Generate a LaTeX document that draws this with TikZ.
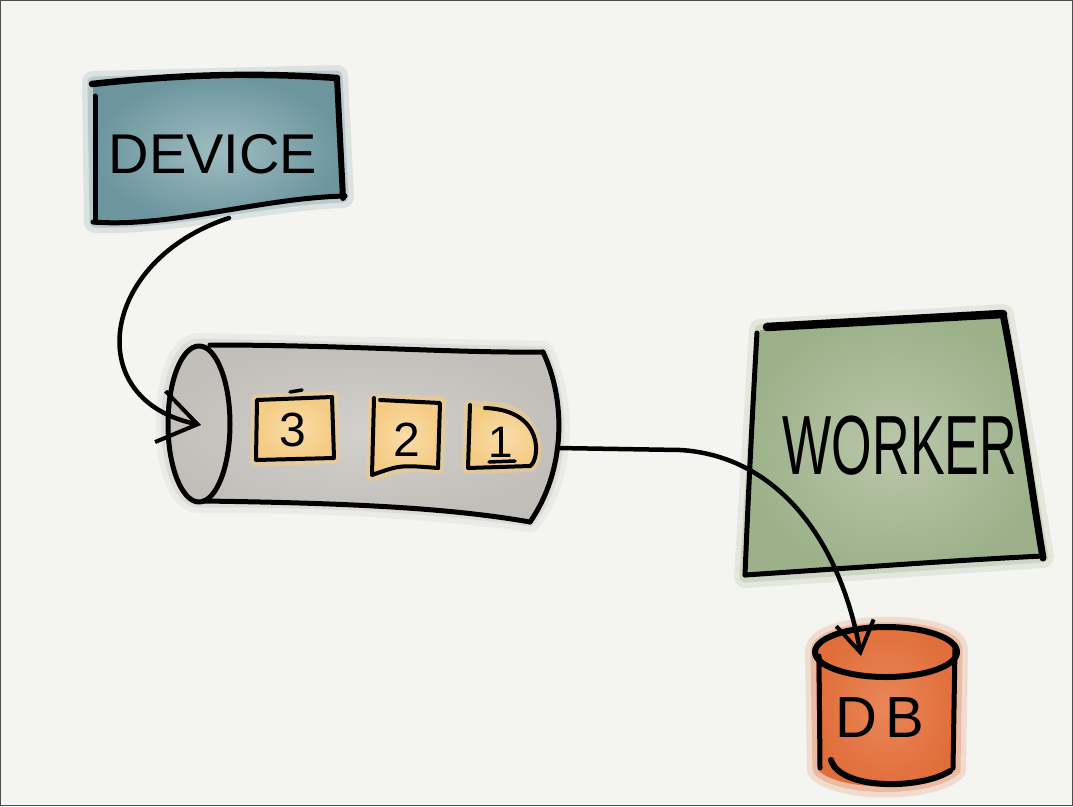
\documentclass[tikz,border=0pt]{standalone}
\usepackage{fontspec}
\setmainfont{Liberation Sans}
\usetikzlibrary{arrows.meta}
\definecolor{paper}{HTML}{F4F4F0}
\definecolor{devdark}{HTML}{6C959E}
\definecolor{devlight}{HTML}{9EBCC0}
\definecolor{qdark}{HTML}{C2BFBA}
\definecolor{qlight}{HTML}{D2D0CC}
\definecolor{wdark}{HTML}{9CB18A}
\definecolor{wlight}{HTML}{B9C7AA}
\definecolor{dbdark}{HTML}{E06E3A}
\definecolor{dblight}{HTML}{E98659}
\definecolor{mdark}{HTML}{F4CB84}
\definecolor{mlight}{HTML}{FADDA8}
\begin{document}
\begin{tikzpicture}[x=1pt,y=-1pt,
  ink/.style={line width=5pt, line cap=round, line join=round, draw=black},
  bleedA/.style={line width=22pt, line join=round, opacity=0.18},
  bleedB/.style={line width=11pt, line join=round, opacity=0.3},
  handtext/.style={inner sep=0pt, text=black},
  conn/.style={ink, line width=4.5pt}
]
\useasboundingbox (0,0) rectangle (1073,806);
\fill[paper] (0,0) rectangle (1073,806);
\draw[black!70, line width=1.2pt] (0.8,0.8) rectangle (1072.2,805.2);

% ---------------- DEVICE ----------------
\def\devpath{(93,82) -- (337,76) -- (343,197) .. controls (260,200) and (170,225) .. (95,222) -- cycle}
\filldraw[devdark, bleedA] \devpath;
\filldraw[devdark, bleedB] \devpath;
\shade[inner color=devlight, outer color=devdark] \devpath;
\draw[ink, line width=6.5pt] (92,84) .. controls (200,72) and (280,74) .. (337,78);
\draw[ink, line width=6pt] (337,78) -- (343,198);
\draw[ink] (345,196) .. controls (260,198) and (170,228) .. (93,222);
\draw[ink] (95,96) -- (95,222);
\node[handtext, font=\fontsize{56}{60}\selectfont] (devtext) at (213,154) {DEVICE};

% ---------------- QUEUE ----------------
\def\qpath{(199,344) -- (543,352) .. controls (568,410) and (563,480) .. (530,521) .. controls (420,506) and (300,501) .. (199,502) .. controls (156,502) and (156,344) .. (199,344) -- cycle}
\filldraw[qdark, bleedA] \qpath;
\filldraw[qdark, bleedB] \qpath;
\shade[inner color=qlight, outer color=qdark] \qpath;
\draw[ink] (199,424) ellipse [x radius=31, y radius=78];
\draw[ink] (210,345) .. controls (350,345) and (450,353) .. (543,352);
\draw[ink] (543,352) .. controls (566,400) and (566,470) .. (530,522);
\draw[ink] (203,501) .. controls (350,503) and (450,508) .. (530,522);

% message boxes
\def\mthree{(257,400) -- (332,397) -- (334,458) -- (256,460) -- cycle}
\filldraw[mdark, line width=12pt, line join=round, opacity=0.6] \mthree;
\shade[inner color=mlight, outer color=mdark] \mthree;
\draw[ink, line width=4pt] \mthree;
\draw[ink, line width=3.5pt] (290,392) -- (302,390);
\node[handtext, font=\fontsize{48}{52}\selectfont] (m3) at (293,430) {3};

\def\mtwo{(374,400) -- (440,402) -- (438,468) .. controls (410,464) .. (372,475) -- cycle}
\filldraw[mdark, line width=12pt, line join=round, opacity=0.6] \mtwo;
\shade[inner color=mlight, outer color=mdark] \mtwo;
\draw[ink, line width=4pt] (374,398) -- (372,475) .. controls (400,465) .. (438,468);
\draw[ink, line width=4pt] (380,400) -- (440,403) -- (438,468);
\node[handtext, font=\fontsize{48}{52}\selectfont] (m2) at (407,440) {2};

\def\mone{(470,406) -- (495,408) .. controls (540,412) and (540,460) .. (530,466) -- (468,468) -- cycle}
\filldraw[mdark, line width=12pt, line join=round, opacity=0.6] \mone;
\shade[inner color=mlight, outer color=mdark] \mone;
\draw[ink, line width=4pt] (470,405) -- (468,468) -- (530,466);
\draw[ink, line width=4pt] (485,408) .. controls (545,410) and (540,460) .. (530,466);
\node[handtext, font=\fontsize{44}{48}\selectfont] (m1) at (501,442) {1};
\draw[ink, line width=3.5pt] (489,462) -- (515,461);

% ---------------- WORKER ----------------
\def\wpath{(760,330) -- (1003,315) -- (1043,557) -- (745,577) -- cycle}
\filldraw[wdark, bleedA] \wpath;
\filldraw[wdark, bleedB] \wpath;
\shade[inner color=wlight, outer color=wdark] \wpath;
\draw[ink, line width=8.5pt] (767,327) -- (1003,314);
\draw[ink, line width=7pt] (1003,314) .. controls (1020,400) and (1030,480) .. (1043,558);
\draw[ink] (745,575) .. controls (880,566) and (960,560) .. (1043,556);
\draw[ink] (757,333) .. controls (752,420) and (748,500) .. (745,575);
\node[handtext, font=\fontsize{84}{90}\selectfont] (worktext) at (900,446) {\scalebox{0.62}[1]{WORKER}};

% ---------------- DB ----------------
\def\dbpath{(816,652) -- (818,770) .. controls (840,792) and (930,792) .. (955,770) -- (957,650) .. controls (957,620) and (816,620) .. (816,652) -- cycle}
\filldraw[dbdark, bleedA] \dbpath;
\filldraw[dbdark, bleedB] \dbpath;
\shade[inner color=dblight, outer color=dbdark] \dbpath;
\draw[ink, line width=6pt] (886,652) ellipse [x radius=71, y radius=25];
\draw[ink] (819,656) -- (820,768);
\draw[ink] (955,648) -- (953,768);
\draw[ink, line width=6pt] (831,760) .. controls (840,790) and (920,790) .. (950,771);
\node[handtext, font=\fontsize{58}{62}\selectfont] (dbtext) at (880,718) {D\kern8pt B};

% ---------------- connectors ----------------
\coordinate (devout) at (229,218);
\coordinate (qin) at (201,425);
\coordinate (qout) at (557,448);
\coordinate (dbin) at (861,656);
\draw[conn, -{Straight Barb[length=38pt,width=52pt,line width=4pt]}] (devout) .. controls (100,260) and (80,400) .. (qin);
\draw[conn, -{Straight Barb[length=30pt,width=38pt,line width=4pt]}] (qout) -- (680,450) .. controls (770,455) and (838,530) .. (dbin);
\end{tikzpicture}
\end{document}
